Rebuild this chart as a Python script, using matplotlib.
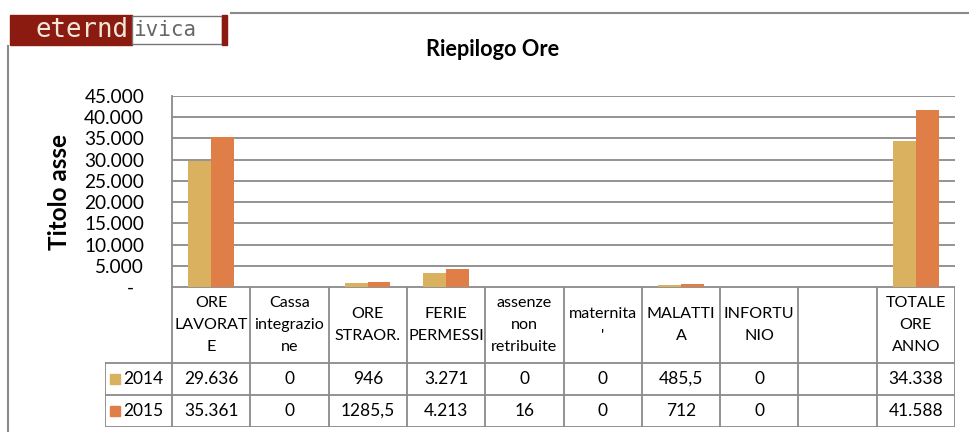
import matplotlib.pyplot as plt
import numpy as np

categories = ['ORE\nLAVORAT\nE', 'Cassa\nintegrazio\nne', 'ORE\nSTRAOR.', 'FERIE\nPERMESSI',
              'assenze\nnon\nretribuite', 'maternita\n\'', 'MALATTI\nA', 'INFORTU\nNIO', '',
              'TOTALE\nORE\nANNO']
series = ['2014', '2015']
v2014 = [29636, 0, 946, 3271, 0, 0, 485.5, 0, np.nan, 34338]
v2015 = [35361, 0, 1285.5, 4213, 16, 0, 712, 0, np.nan, 41588]
yticks = np.arange(0, 45001, 5000)

c14 = '#D9B15F'
c15 = '#E07E48'
grey = '#8a8a8a'
W, H = 969, 432
plt.rcParams['font.family'] = ['Lato', 'DejaVu Sans']


def box(x0, y0, x1, y1):
    return [x0 / W, 1 - y1 / H, (x1 - x0) / W, (y1 - y0) / H]


def fmt(v):
    if np.isnan(v):
        return ''
    if float(v).is_integer():
        return f"{int(v):,}".replace(',', '.')
    return f"{v:.1f}".replace('.', ',')


fig = plt.figure(figsize=(W / 100, H / 100), dpi=100)

# overlay for logo, border and titles (pixel coords)
ov = fig.add_axes([0, 0, 1, 1])
ov.set_xlim(0, W)
ov.set_ylim(H, 0)
ov.axis('off')
ov.plot([231, W], [13, 13], color=grey, lw=1.5)
ov.plot([8, 8], [46, H], color=grey, lw=1.5)
ov.add_patch(plt.Rectangle((10, 15), 122, 30, color='#8B1A10'))
ov.add_patch(plt.Rectangle((132, 16), 90, 28, facecolor='white', edgecolor='#777777', lw=1))
ov.add_patch(plt.Rectangle((222, 15), 5, 30, color='#8B1A10'))
ov.text(36, 30, 'eternd', color='#F2E8DA', fontsize=18.5, family='DejaVu Sans Mono',
        ha='left', va='center')
ov.text(133, 30, 'ivica', color='#666666', fontsize=15, family='DejaVu Sans Mono',
        ha='left', va='center')
ov.text(493, 50, 'Riepilogo Ore', fontsize=15.7, fontweight='bold', ha='center', va='center')
ov.text(60, 192, 'Titolo asse', fontsize=17.5, fontweight='bold', rotation=90,
        ha='center', va='center')

# chart
ax = fig.add_axes(box(172, 96, 955, 287))
x = np.arange(len(categories))
bw = 0.29
a = np.array(v2014, dtype=float)
b = np.array(v2015, dtype=float)
m = ~np.isnan(a)
ax.bar(x[m] - bw / 2, a[m], bw, color=c14, zorder=2)
ax.bar(x[m] + bw / 2, b[m], bw, color=c15, zorder=2)
ax.set_xlim(-0.5, len(categories) - 0.5)
ax.set_ylim(0, 45000)
ax.set_yticks(yticks)
ax.set_yticklabels(['-  ' if t == 0 else fmt(t) for t in yticks], fontsize=13.7)
ax.set_xticks([])
ax.yaxis.grid(True, color=grey, lw=1.3)
ax.set_axisbelow(True)
for s in ['top', 'right', 'bottom']:
    ax.spines[s].set_visible(False)
ax.spines['left'].set_color(grey)
ax.spines['left'].set_linewidth(1.3)
ax.tick_params(axis='y', length=0, pad=20)

# data table
tax = fig.add_axes(box(105, 287, 955, 427))
n = len(categories)
lw_ = 67 / 78.3
hh = 76 / 32
tax.set_xlim(-0.5 - lw_, n - 0.5)
tax.set_ylim(hh + 2, 0)
tax.axis('off')
tk = dict(color=grey, lw=1.3, solid_capstyle='projecting')
tax.plot([-0.5, n - 0.5], [0, 0], **tk)
for yy in [hh, hh + 1, hh + 2]:
    tax.plot([-0.5 - lw_, n - 0.5], [yy, yy], **tk)
tax.plot([-0.5 - lw_] * 2, [hh, hh + 2], **tk)
for k in range(n + 1):
    tax.plot([k - 0.5] * 2, [0, hh + 2], **tk)
for i, c in enumerate(categories):
    tax.text(i, hh / 2, c, ha='center', va='center', fontsize=11.6, linespacing=1.7)
for r, (name, vals, col) in enumerate([(series[0], v2014, c14), (series[1], v2015, c15)]):
    yc = hh + 0.5 + r
    tax.plot([-0.5 - lw_ + 0.13], [yc], marker='s', ms=6.5, color=col, ls='none')
    tax.text(-0.5 - lw_ + 0.23, yc, name, ha='left', va='center', fontsize=12.5)
    for i, v in enumerate(vals):
        tax.text(i, yc, fmt(v), ha='center', va='center', fontsize=12.5)

fig.savefig('out.png', dpi=100)
